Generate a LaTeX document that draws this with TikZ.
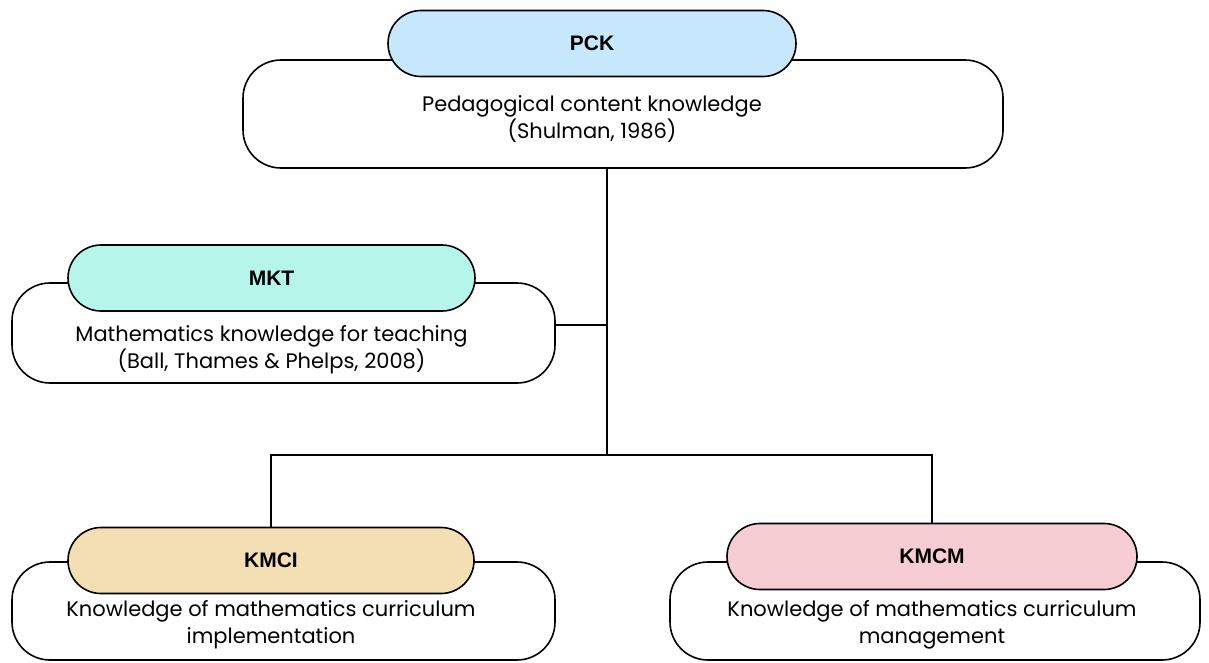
\documentclass[tikz,border=0pt]{standalone}
\usepackage{fontspec}
\setmainfont{Poppins}
\newfontfamily\labelfont{Liberation Sans}
\definecolor{pckfill}{HTML}{C6E7FC}
\definecolor{mktfill}{HTML}{B6F5E9}
\definecolor{kmcifill}{HTML}{F3DFB3}
\definecolor{kmcmfill}{HTML}{F7CDD4}
\begin{document}
\begin{tikzpicture}[x=1pt,y=-1pt,
  outer/.style={draw=black, line width=1.6pt, fill=white, rounded corners=38pt,
    inner sep=0pt, minimum width=#1},
  pill/.style={draw=black, line width=1.6pt, rounded corners=33pt, inner sep=0pt,
    minimum height=66pt, minimum width=#1,
    font=\labelfont\bfseries\fontsize{21}{24}\selectfont},
  body/.style={align=center, font=\fontsize{21}{27}\selectfont, inner sep=0pt},
  wire/.style={line width=1.6pt}]
\useasboundingbox (0,0) rectangle (1209,662);

% PCK
\node[outer=760pt, minimum height=108pt] (pckbox) at (623,114) {};
\node[pill=408pt, fill=pckfill] (pckpill) at (592,43.5) {PCK};
\node[body] (pcktxt) at (592,119) {Pedagogical content knowledge\\(Shulman, 1986)};

% MKT
\node[outer=543pt, minimum height=100pt] (mktbox) at (283.5,333) {};
\node[pill=407pt, fill=mktfill] (mktpill) at (271.5,278) {MKT};
\node[body] (mkttxt) at (271.5,350) {Mathematics knowledge for teaching\\(Ball, Thames \& Phelps, 2008)};

% KMCI
\node[outer=543pt, minimum height=98pt] (kmcibox) at (283.5,611) {};
\node[pill=406pt, fill=kmcifill] (kmcipill) at (271,560.5) {KMCI};
\node[body] (kmcitxt) at (271,625) {Knowledge of mathematics curriculum\\implementation};

% KMCM
\node[outer=530pt, minimum height=98pt] (kmcmbox) at (935,611) {};
\node[pill=410pt, fill=kmcmfill] (kmcmpill) at (932,556.5) {KMCM};
\node[body] (kmcmtxt) at (932,625) {Knowledge of mathematics curriculum\\management};

% connectors
\coordinate (jt) at (607,455);
\draw[wire] (jt |- pckbox.south) -- (jt);
\draw[wire] ([yshift=8pt]mktbox.east) -- ([yshift=8pt]mktbox.east -| jt);
\draw[wire] (kmcipill.north) |- (kmcmpill.north |- jt) -- (kmcmpill.north);
\end{tikzpicture}
\end{document}
